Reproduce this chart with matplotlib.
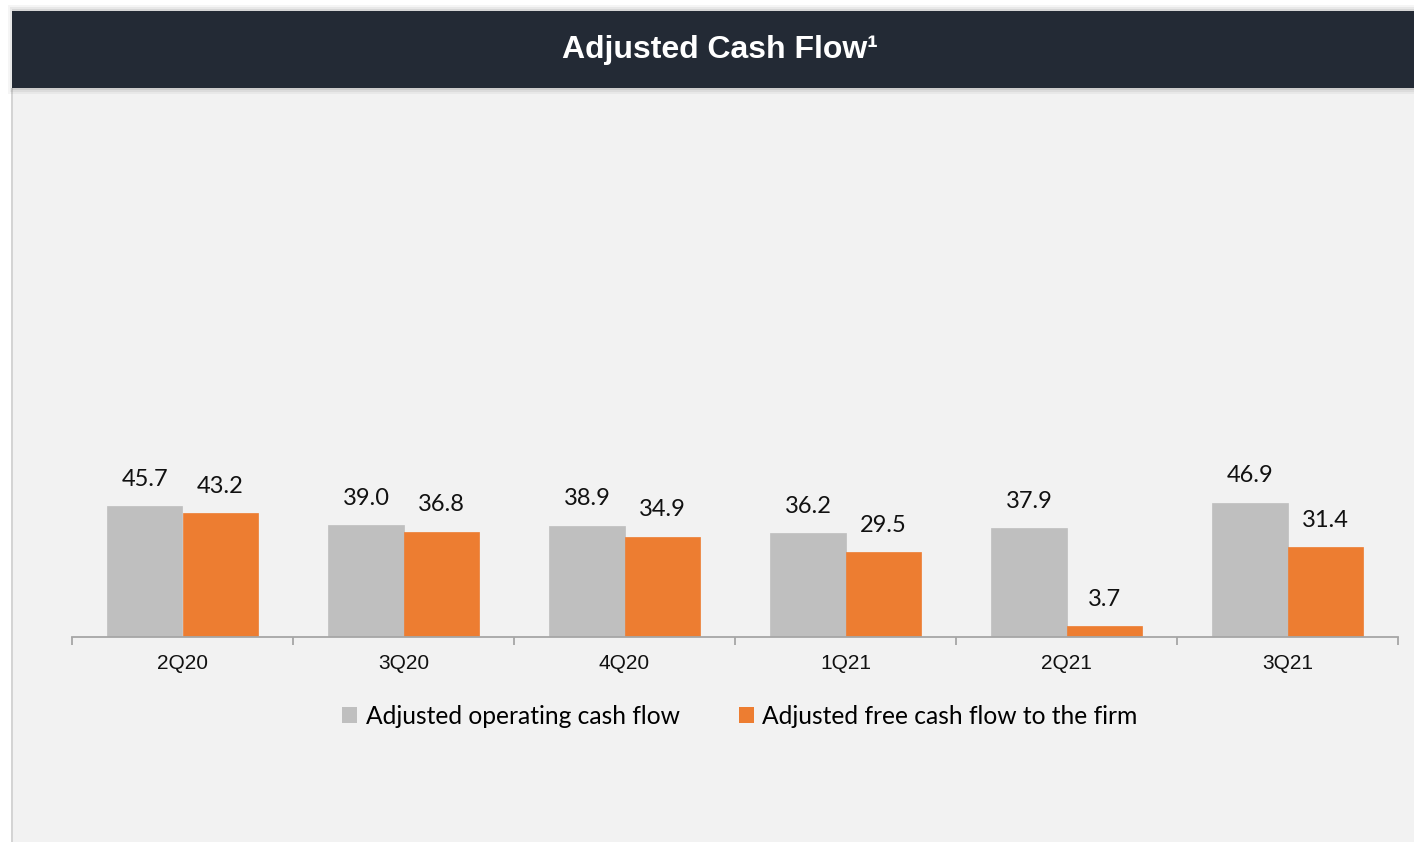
import matplotlib
matplotlib.use("Agg")
import matplotlib.pyplot as plt
from matplotlib.patches import Rectangle, Patch

# data
quarters = ["2Q20", "3Q20", "4Q20", "1Q21", "2Q21", "3Q21"]
operating_cf = [45.7, 39.0, 38.9, 36.2, 37.9, 46.9]
free_cf = [43.2, 36.8, 34.9, 29.5, 3.7, 31.4]
series_names = ["Adjusted operating cash flow", "Adjusted free cash flow to the firm"]

GRAY = "#bfbfbf"
ORANGE = "#ed7d31"
W, H = 1414, 842

fig = plt.figure(figsize=(W / 100, H / 100), dpi=100)
fig.patch.set_facecolor("white")

def px(x0, y0, x1, y1, **kw):
    # rectangle in pixel coords, y measured from top
    r = Rectangle((x0 / W, 1 - y1 / H), (x1 - x0) / W, (y1 - y0) / H,
                  transform=fig.transFigure, **kw)
    fig.patches.append(r)

# panel + border
px(12, 80, W, H, facecolor="#f2f2f2", edgecolor="none", zorder=-2)
px(11, 88, 13, H, facecolor="#d4d4d4", edgecolor="none", zorder=-1.5)
# header shadow, then header band
for k, a in [(6, 0.04), (4, 0.05), (2, 0.07)]:
    px(12 - k + 2, 11 - k, W, 88 + k, facecolor="black", alpha=a, edgecolor="none", zorder=-1)
px(12, 11, W, 88, facecolor="#232a35", edgecolor="none", zorder=-0.5)
fig.text(720 / W, 1 - 50 / H, "Adjusted Cash Flow\u00b9", color="white", fontsize=23,
         fontweight="bold", family="Liberation Sans", ha="center", va="center", zorder=3)

ax = fig.add_axes([72 / W, (H - 637) / H, (1398 - 72) / W, (637 - 120) / H])
ax.set_zorder(5)
ax.set_facecolor("none")
n = len(quarters)
ax.set_xlim(0, n)
ax.set_ylim(0, (637 - 120) / 2.866)

bw = 0.34
xs = [i + 0.5 for i in range(n)]
b1 = ax.bar([x - bw / 2 for x in xs], operating_cf, width=bw, color=GRAY,
            edgecolor=GRAY, linewidth=0.5, zorder=2)
b2 = ax.bar([x + bw / 2 for x in xs], free_cf, width=bw, color=ORANGE,
            edgecolor=ORANGE, linewidth=0.5, zorder=2)

for bars, vals in [(b1, operating_cf), (b2, free_cf)]:
    for r, v in zip(bars, vals):
        ax.annotate(f"{v:.1f}", (r.get_x() + r.get_width() / 2, v), xytext=(0, 27),
                    textcoords="offset pixels", ha="center", va="center",
                    fontsize=17, family="Lato", color="#111111")

for s in ["top", "left", "right"]:
    ax.spines[s].set_visible(False)
ax.spines["bottom"].set_color("#a6a6a6")
ax.spines["bottom"].set_linewidth(1.3)
ax.set_yticks([])
ax.set_xticks(range(n + 1))
ax.set_xticklabels([])
ax.tick_params(axis="x", which="major", length=6, color="#a6a6a6", width=1.3)
ax.set_xticks(xs, minor=True)
ax.set_xticklabels(quarters, minor=True, fontsize=15, family="Liberation Sans", color="#111111")
ax.tick_params(axis="x", which="minor", length=0, pad=12)

handles = [Patch(facecolor=GRAY, edgecolor="none"), Patch(facecolor=ORANGE, edgecolor="none")]
fig.legend(handles, series_names, loc="center", bbox_to_anchor=(740 / W, 1 - 716 / H),
           ncol=2, frameon=False, prop={"family": "Lato", "size": 17.7},
           handlelength=0.6, handleheight=0.6, handletextpad=0.35, columnspacing=2.4)

fig.savefig("out.png", dpi=100, facecolor=fig.get_facecolor())
